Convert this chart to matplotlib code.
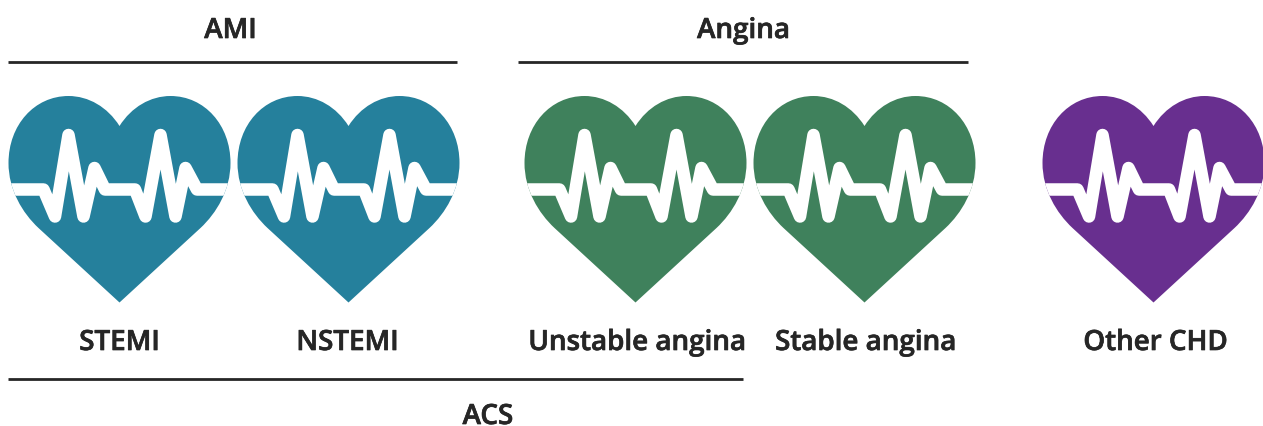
import matplotlib
matplotlib.use("Agg")
import matplotlib.pyplot as plt
import matplotlib.patheffects as pe
from matplotlib.path import Path
from matplotlib.patches import PathPatch

# hearts
heart_labels = ["STEMI", "NSTEMI", "Unstable angina", "Stable angina", "Other CHD"]
heart_colors = ["#25809C", "#25809C", "#3F815C", "#3F815C", "#682F8F"]
heart_x = [119.5, 348.5, 635.5, 864.5, 1153.5]

# group brackets: label, x start, x end, line y, label x, label y
group_labels = ["AMI", "Angina", "ACS"]
group_x0 = [8, 518, 8]
group_x1 = [457, 967.5, 743]
group_line_y = [62, 62, 378.5]
group_text_x = [230.5, 743.5, 488]
group_text_y = [30.5, 30.5, 416.5]

label_y = 342.5
label_x = [119.5, 347.5, 637, 865.5, 1155.5]
text_color = "#262626"

fig = plt.figure(figsize=(12.63, 4.26), dpi=100)
ax = fig.add_axes([0, 0, 1, 1])
ax.set_xlim(0, 1263)
ax.set_ylim(426, 0)
ax.axis("off")


def heart_path(cx):
    # outline of the icon, offsets from the centre line
    verts = [(0, 126),
             (-12, 107), (-31, 96), (-51, 96),
             (-85, 96), (-111, 125), (-111, 163),
             (-111, 190), (-97, 213), (-81, 228),
             (0, 302.5),
             (81, 228),
             (97, 213), (111, 190), (111, 163),
             (111, 125), (85, 96), (51, 96),
             (31, 96), (12, 107), (0, 126),
             (0, 126)]
    codes = [Path.MOVETO,
             Path.CURVE4, Path.CURVE4, Path.CURVE4,
             Path.CURVE4, Path.CURVE4, Path.CURVE4,
             Path.CURVE4, Path.CURVE4, Path.CURVE4,
             Path.LINETO,
             Path.LINETO,
             Path.CURVE4, Path.CURVE4, Path.CURVE4,
             Path.CURVE4, Path.CURVE4, Path.CURVE4,
             Path.CURVE4, Path.CURVE4, Path.CURVE4,
             Path.CLOSEPOLY]
    return Path([(cx + v[0], v[1]) for v in verts], codes)


# ecg trace, same offsets for every heart
ecg_dx = [-115, -76, -64.5, -51, -36, -25, -14.5, 15.5, 26, 41, 56, 66, 77.5, 115]
ecg_y = [189.5, 189.5, 216.5, 135, 216.5, 168, 189.5, 189.5, 216.5, 135, 216.5, 168, 189.5, 189.5]

for cx, col in zip(heart_x, heart_colors):
    patch = PathPatch(heart_path(cx), facecolor=col, edgecolor="none", zorder=2)
    ax.add_patch(patch)
    trace, = ax.plot([cx + d for d in ecg_dx], ecg_y, color="white", lw=9,
                     solid_joinstyle="round", solid_capstyle="butt", zorder=3)
    trace.set_clip_path(patch)

# the installed Open Sans has no real semibold here, so thicken it with a stroke
bold = [pe.withStroke(linewidth=0.5, foreground=text_color)]
font = dict(family=["Open Sans", "DejaVu Sans"], fontweight=600, fontsize=20,
            color=text_color, ha="center", va="center", path_effects=bold)

for x, name in zip(label_x, heart_labels):
    ax.text(x, label_y, name, **font)

for name, x0, x1, ly, tx, ty in zip(group_labels, group_x0, group_x1, group_line_y,
                                    group_text_x, group_text_y):
    ax.plot([x0, x1], [ly, ly], color=text_color, lw=2.0, solid_capstyle="butt")
    ax.text(tx, ty, name, **font)

fig.savefig("out.png", dpi=100)
